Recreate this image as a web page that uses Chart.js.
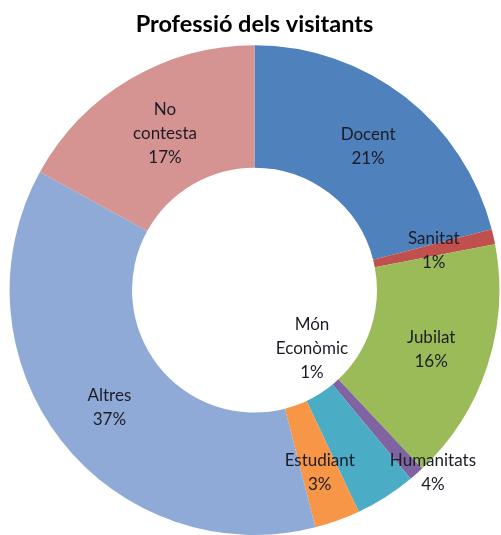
<!DOCTYPE html>
<html>
<head>
<meta charset="utf-8">
<title>Professió dels visitants</title>
<script src="https://cdn.jsdelivr.net/npm/chart.js"></script>
<style>
  html, body { margin: 0; padding: 0; background: #fff; }
  #wrap { width: 501px; height: 535px; }
</style>
</head>
<body>
<div id="wrap"><canvas id="profChart"></canvas></div>
<script>
const labels = ['Docent', 'Sanitat', 'Jubilat', 'Món Econòmic', 'Humanitats', 'Estudiant', 'Altres', 'No contesta'];
const values = [21, 1, 16, 1, 4, 3, 37, 17];
const colors = ['#4F81BD', '#C0504D', '#9BBB59', '#8064A2', '#4BACC6', '#F79646', '#8FAAD6', '#D59492'];

// label text split over lines, and nudges (px) for labels Excel moved off the slice centre
const labelLines = [['Docent'], ['Sanitat'], ['Jubilat'], ['Món', 'Econòmic'], ['Humanitats'], ['Estudiant'], ['Altres'], ['No', 'contesta']];
const labelNudge = { 0: [1, 2], 2: [2, 3], 3: [-64, -79], 4: [80, 27], 5: [3, 10], 6: [0, 5], 7: [4, 2] };

const total = values.reduce((a, b) => a + b, 0);

const sliceLabels = {
    id: 'sliceLabels',
    afterDatasetsDraw(chart) {
        const ctx = chart.ctx;
        const arcs = chart.getDatasetMeta(0).data;
        ctx.save();
        ctx.font = '17px Lato';
        ctx.fillStyle = '#1c1c26';
        ctx.textAlign = 'center';
        ctx.textBaseline = 'middle';
        arcs.forEach((arc, i) => {
            const pos = arc.tooltipPosition();
            const nudge = labelNudge[i] || [0, 0];
            const lines = labelLines[i].concat([Math.round(values[i] / total * 100) + '%']);
            const lh = 24;
            const y0 = pos.y + nudge[1] - (lines.length - 1) * lh / 2;
            lines.forEach((t, k) => ctx.fillText(t, pos.x + nudge[0], y0 + k * lh));
        });
        ctx.restore();
    }
};

new Chart(document.getElementById('profChart'), {
    type: 'doughnut',
    data: {
        labels: labels,
        datasets: [{
            data: values,
            backgroundColor: colors,
            borderWidth: 0
        }]
    },
    options: {
        responsive: true,
        maintainAspectRatio: false,
        animation: false,
        cutout: '50%',
        layout: { padding: { left: 8, right: 0, top: 0, bottom: 0 } },
        plugins: {
            legend: { display: false },
            tooltip: { enabled: false },
            title: {
                display: true,
                text: 'Professió dels visitants',
                color: '#000',
                font: { family: 'Lato', size: 23.5, weight: 'bold' },
                padding: { top: 10, bottom: 7 }
            }
        }
    },
    plugins: [sliceLabels]
});
</script>
</body>
</html>
